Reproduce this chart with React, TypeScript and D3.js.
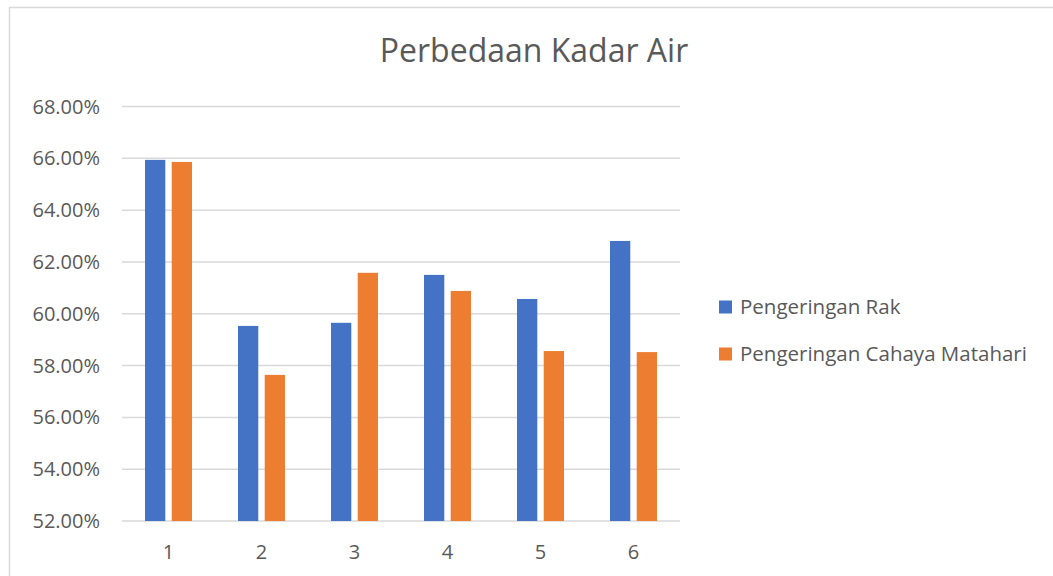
import * as d3 from 'd3';

const categories = ['1', '2', '3', '4', '5', '6'];
const seriesNames = ['Pengeringan Rak', 'Pengeringan Cahaya Matahari'];
const rakValues = [65.94, 59.53, 59.65, 61.5, 60.57, 62.81];
const matahariValues = [65.86, 57.64, 61.58, 60.88, 58.56, 58.52];
const yTicks = [52, 54, 56, 58, 60, 62, 64, 66, 68];
const colors = ['#4472C4', '#ED7D31'];

const width = 1053;
const height = 576;
const font = '"Open Sans", "Noto Sans", sans-serif';
const textColor = '#595959';

export default function App() {
  const margin = { top: 106.5, left: 122, right: 680, bottom: 521 };

  const x0 = d3.scaleBand<string>().domain(categories).range([margin.left, margin.right]);
  const y = d3.scaleLinear().domain([52, 68]).range([margin.bottom, margin.top]);
  const halfGroup = 23.5;
  const x1 = d3
    .scaleBand<number>()
    .domain([0, 1])
    .range([x0.bandwidth() / 2 - halfGroup, x0.bandwidth() / 2 + halfGroup])
    .paddingInner(0.24);

  const series = [rakValues, matahariValues];
  const fmt = (v: number) => `${v.toFixed(2)}%`;

  return (
    <svg
      width={width}
      height={height}
      style={{ position: 'absolute', left: 0, top: 0, background: '#fff' }}
      fontFamily={font}
    >
      {/* chart border */}
      <rect x={9.5} y={7.5} width={1100} height={620} fill="#fff" stroke="#d9d9d9" strokeWidth={1.5} />

      <text x={534} y={62} textAnchor="middle" fontSize={32} fill={textColor}>
        Perbedaan Kadar Air
      </text>

      {/* gridlines + y labels */}
      {yTicks.map((t) => (
        <g key={t}>
          <line x1={margin.left} x2={margin.right} y1={y(t)} y2={y(t)} stroke="#d9d9d9" strokeWidth={1.5} />
          <text x={100} y={y(t)} dy="0.35em" textAnchor="end" fontSize={20} fill={textColor}>
            {fmt(t)}
          </text>
        </g>
      ))}

      {/* bars */}
      {categories.map((c, i) => (
        <g key={c} transform={`translate(${x0(c)},0)`}>
          {series.map((vals, s) => (
            <rect
              key={s}
              x={x1(s)}
              y={y(vals[i])}
              width={x1.bandwidth()}
              height={y(52) - y(vals[i])}
              fill={colors[s]}
            />
          ))}
          <text
            x={x0.bandwidth() / 2}
            y={552}
            dy="0.35em"
            textAnchor="middle"
            fontSize={20}
            fill={textColor}
          >
            {c}
          </text>
        </g>
      ))}

      {/* legend */}
      {seriesNames.map((name, s) => (
        <g key={name} transform={`translate(719,${307 + s * 47})`}>
          <rect x={0} y={-6.5} width={13} height={13} fill={colors[s]} />
          <text x={21} y={0} dy="0.35em" fontSize={20.5} fill={textColor}>
            {name}
          </text>
        </g>
      ))}
    </svg>
  );
}
